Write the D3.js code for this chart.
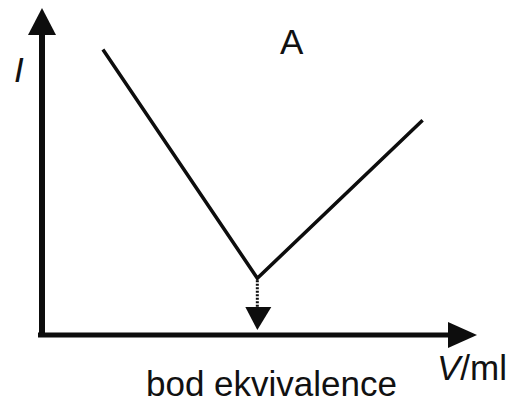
<!DOCTYPE html>
<html>
<head>
<meta charset="utf-8">
<script src="https://cdn.jsdelivr.net/npm/d3@7"></script>
<style>
  html, body { margin: 0; padding: 0; background: #fff; }
  svg { display: block; }
  text { font-family: 'Liberation Sans', Arial, sans-serif; fill: #111; }
</style>
</head>
<body>
<script>
// titration curve: volume (ml) vs current
const volumes = [2.8, 9.9, 17.5]
const currents = [13.1, 2.6, 9.85]
const equivalenceV = 9.9
const labels = {panel: 'A', yAxis: 'I', xAxisVar: 'V', xAxisUnit: '/ml', point: 'bod ekvivalence'}

const width = 506, height = 403

const svg = d3.select('body')
  .append('svg')
  .attr('width', width)
  .attr('height', height)

const x = d3.scaleLinear()
  .domain([0, 20])
  .range([42, 477])

const y = d3.scaleLinear()
  .domain([0, 15])
  .range([335, 8])

const ink = '#0d0d0d'

// axes drawn as thick arrows
svg.append('line')
  .attr('x1', x(0)).attr('y1', y(0) + 2)
  .attr('x2', x(0)).attr('y2', y(15) + 26)
  .attr('stroke', ink).attr('stroke-width', 6)
svg.append('path')
  .attr('d', `M${x(0)},${y(15)} L${x(0) - 14},${y(15) + 27} L${x(0) + 14},${y(15) + 27} Z`)
  .attr('fill', ink)

svg.append('line')
  .attr('x1', x(0) - 4).attr('y1', y(0))
  .attr('x2', x(20) - 28).attr('y2', y(0))
  .attr('stroke', ink).attr('stroke-width', 5)
svg.append('path')
  .attr('d', `M${x(20)},${y(0)} L${x(20) - 29},${y(0) - 13} L${x(20) - 29},${y(0) + 13} Z`)
  .attr('fill', ink)

// the curve
const data = volumes.map((v, i) => [v, currents[i]])
const line = d3.line()
  .x(d => x(d[0]))
  .y(d => y(d[1]))

svg.append('path')
  .datum(data)
  .attr('d', line)
  .attr('fill', 'none')
  .attr('stroke', ink)
  .attr('stroke-width', 3.5)
  .attr('stroke-linejoin', 'miter')

// dotted drop to the equivalence point
const eqI = currents[volumes.indexOf(equivalenceV)]
svg.append('line')
  .attr('x1', x(equivalenceV)).attr('y1', y(eqI) + 2)
  .attr('x2', x(equivalenceV)).attr('y2', 308)
  .attr('stroke', ink)
  .attr('stroke-width', 3)
  .attr('stroke-dasharray', '2,1.5')
svg.append('path')
  .attr('d', `M${x(equivalenceV) - 12},307 L${x(equivalenceV) + 14},307 L${x(equivalenceV)},330 Z`)
  .attr('fill', ink)

// labels
svg.append('text')
  .attr('x', 280).attr('y', 54)
  .style('font-size', '35px')
  .text(labels.panel)

svg.append('text')
  .attr('x', 14).attr('y', 82)
  .style('font-size', '35px')
  .style('font-style', 'italic')
  .text(labels.yAxis)

const xl = svg.append('text')
  .attr('x', 437).attr('y', 380)
  .style('font-size', '35px')
xl.append('tspan').style('font-style', 'italic').text(labels.xAxisVar)
xl.append('tspan').text(labels.xAxisUnit)

svg.append('text')
  .attr('x', 146).attr('y', 396)
  .style('font-size', '35px')
  .text(labels.point)
</script>
</body>
</html>
